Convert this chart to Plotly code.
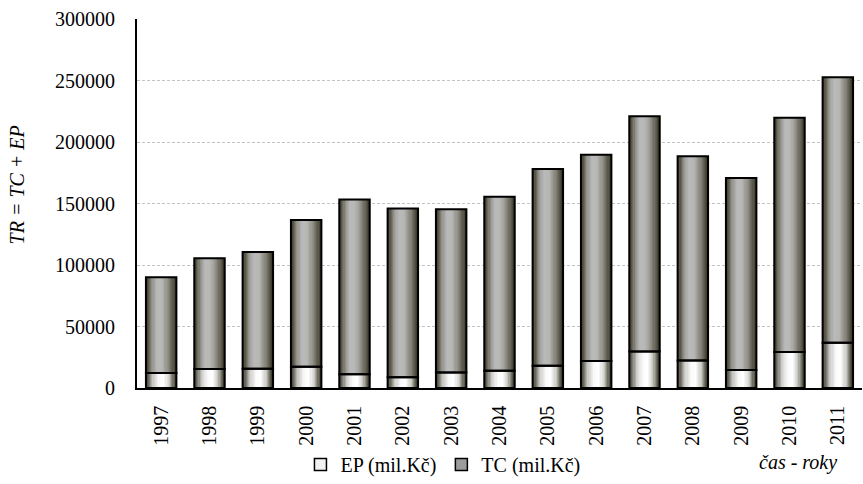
import plotly.graph_objects as go

# Years and values (mil. Kč)
years = [str(y) for y in range(1997, 2012)]
ep = [12200, 15400, 15700, 17300, 11100, 8700, 12700, 14100,
      18100, 21900, 29700, 22400, 14600, 29200, 36700]
tc = [77800, 90000, 94800, 119200, 142100, 137300, 132700, 141300,
      160000, 167800, 191300, 166000, 156200, 190500, 216000]

FONT = "Times New Roman, Liberation Serif, serif"
BAR_W = 0.63      # bar width in category units
N_STRIPS = 26     # vertical strips used to shade each bar

# horizontal shading stops (position, rgb)
EP_STOPS = [(0.0, (58, 55, 42)), (0.1, (105, 102, 90)), (0.25, (200, 200, 197)),
            (0.45, (250, 250, 250)), (0.6, (255, 255, 255)), (0.78, (205, 205, 200)),
            (0.9, (115, 113, 100)), (1.0, (56, 54, 40))]
TC_STOPS = [(0.0, (56, 53, 38)), (0.1, (90, 87, 73)), (0.22, (148, 147, 140)),
            (0.38, (186, 186, 186)), (0.55, (182, 182, 181)), (0.75, (138, 136, 126)),
            (0.9, (90, 88, 75)), (1.0, (56, 53, 38))]


def shade(stops, t):
    for (t0, c0), (t1, c1) in zip(stops, stops[1:]):
        if t0 <= t <= t1:
            f = (t - t0) / (t1 - t0)
            r, g, b = (round(a + (bb - a) * f) for a, bb in zip(c0, c1))
            return f"rgb({r},{g},{b})"
    return "rgb(%d,%d,%d)" % stops[-1][1]


fig = go.Figure()
series = [("EP (mil.Kč)", ep, [0] * len(ep), EP_STOPS, "#f2f2f2"),
          ("TC (mil.Kč)", tc, ep, TC_STOPS, "#9c9c9c")]

strip = BAR_W / N_STRIPS
for name, vals, base, stops, _ in series:
    for i in range(N_STRIPS):
        off = -BAR_W / 2 + i * strip
        w = min(strip * 1.6, BAR_W / 2 - off)
        fig.add_trace(go.Bar(
            x=years, y=vals, base=base, offset=off, width=w,
            marker=dict(color=shade(stops, (i + 0.5) / N_STRIPS), line=dict(width=0)),
            showlegend=False, hoverinfo="skip"))

# black outlines on top of the shaded fills
for name, vals, base, stops, _ in series:
    fig.add_trace(go.Bar(
        x=years, y=vals, base=base, offset=-BAR_W / 2, width=BAR_W,
        marker=dict(color="rgba(0,0,0,0)", line=dict(color="black", width=2)),
        showlegend=False, name=name))

# legend entries
for name, vals, base, stops, swatch in series:
    fig.add_trace(go.Bar(
        x=[None], y=[None], name=name,
        marker=dict(color=swatch, line=dict(color="black", width=1.5))))

fig.update_layout(
    width=863, height=484,
    margin=dict(l=137, r=1, t=19, b=95),
    barmode="overlay",
    paper_bgcolor="white", plot_bgcolor="white",
    font=dict(family=FONT, size=20, color="black"),
    legend=dict(orientation="h", x=0.422, xanchor="center", y=-0.205, yanchor="middle",
                font=dict(family=FONT, size=20), itemwidth=30, tracegroupgap=0,
                bgcolor="rgba(0,0,0,0)"),
    xaxis=dict(type="category", range=[-0.5, 14.5], showgrid=False,
               showline=True, linecolor="black", linewidth=1.5,
               tickangle=-90, ticks="", ticklabelstandoff=8,
               tickfont=dict(family=FONT, size=20)),
    yaxis=dict(range=[0, 300000], dtick=50000, tickformat="d",
               showgrid=True, gridcolor="#c4c4c4", gridwidth=1, griddash="3px,2px",
               showline=True, linecolor="black", linewidth=2, zeroline=False,
               ticks="", ticklabelstandoff=16,
               tickfont=dict(family=FONT, size=20)),
    annotations=[
        dict(text="<i>TR = TC + EP</i>", xref="paper", yref="paper",
             x=-0.165, y=0.55, xanchor="center", yanchor="middle",
             textangle=-90, showarrow=False,
             font=dict(family=FONT, size=20)),
        dict(text="<i>čas - roky</i>", xref="paper", yref="paper",
             x=0.912, y=-0.203, xanchor="center", yanchor="middle",
             showarrow=False, font=dict(family=FONT, size=20)),
    ],
)

fig.write_html("out.html")
